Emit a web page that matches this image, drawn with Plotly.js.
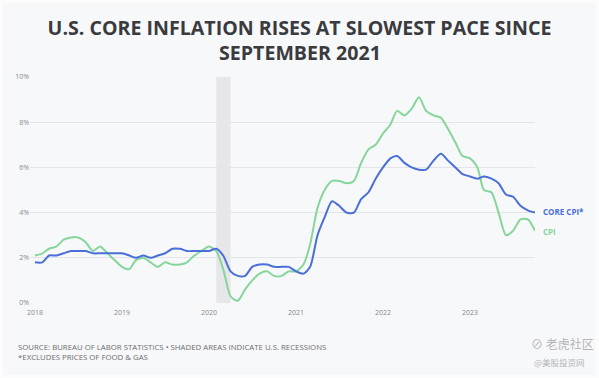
<!DOCTYPE html>
<html>
<head>
<meta charset="utf-8">
<script src="https://cdn.plot.ly/plotly-3.0.1.min.js"></script>
<style>
html,body{margin:0;padding:0;background:#ffffff;}
#wrap{position:relative;width:599px;height:378px;}
#chart{width:599px;height:378px;}
#frame{position:absolute;left:0;top:0;width:599px;height:378px;box-sizing:border-box;border:3px solid #fcfcfd;pointer-events:none;}
</style>
</head>
<body>
<div id="wrap"><div id="chart"></div><div id="frame"></div></div>
<script>
// Year-over-year % change, monthly, Jan 2018 - Oct 2023
const startYear = 2018;
const cpi = [
  2.1, 2.2, 2.4, 2.5, 2.8, 2.9, 2.9, 2.7, 2.3, 2.5, 2.2, 1.9,
  1.6, 1.5, 1.9, 2.0, 1.8, 1.6, 1.8, 1.7, 1.7, 1.8, 2.1, 2.3,
  2.5, 2.3, 1.5, 0.3, 0.1, 0.6, 1.0, 1.3, 1.4, 1.2, 1.2, 1.4,
  1.4, 1.7, 2.6, 4.2, 5.0, 5.4, 5.4, 5.3, 5.4, 6.2, 6.8, 7.0,
  7.5, 7.9, 8.5, 8.3, 8.6, 9.1, 8.5, 8.3, 8.2, 7.7, 7.1, 6.5,
  6.4, 6.0, 5.0, 4.9, 4.0, 3.0, 3.2, 3.7, 3.7, 3.2
];
const coreCpi = [
  1.8, 1.8, 2.1, 2.1, 2.2, 2.3, 2.3, 2.3, 2.2, 2.2, 2.2, 2.2,
  2.2, 2.1, 2.0, 2.1, 2.0, 2.1, 2.2, 2.4, 2.4, 2.3, 2.3, 2.3,
  2.3, 2.4, 2.1, 1.4, 1.2, 1.2, 1.6, 1.7, 1.7, 1.6, 1.6, 1.6,
  1.4, 1.3, 1.6, 3.0, 3.8, 4.5, 4.3, 4.0, 4.0, 4.6, 4.9, 5.5,
  6.0, 6.4, 6.5, 6.2, 6.0, 5.9, 5.9, 6.3, 6.6, 6.3, 6.0, 5.7,
  5.6, 5.5, 5.6, 5.5, 5.3, 4.8, 4.7, 4.3, 4.1, 4.0
];
const yTickVals = [0, 2, 4, 6, 8, 10];
const yTickText = ['0%', '2%', '4%', '6%', '8%', '10%'];
const xTickVals = ['2018-01-01','2019-01-01','2020-01-01','2021-01-01','2022-01-01','2023-01-01'];
const xTickText = ['2018','2019','2020','2021','2022','2023'];
const recessionStart = '2020-02-01';
const recessionEnd = '2020-04-01';
const seriesNames = ['CORE CPI*', 'CPI'];
const titleLines = ['U.S. CORE INFLATION RISES AT SLOWEST PACE SINCE', 'SEPTEMBER 2021'];

const months = cpi.map((_, i) => {
  const y = startYear + Math.floor(i / 12);
  const m = (i % 12) + 1;
  return y + '-' + String(m).padStart(2, '0') + '-01';
});

const blue = '#4a6fd8';
const green = '#86d69b';
const titleFont = {family: 'Open Sans', size: 19.6, color: '#3a3b3e', weight: 700};

const traces = [
  {x: months, y: cpi, type: 'scatter', mode: 'lines', name: seriesNames[1],
   line: {color: green, width: 2, shape: 'spline', smoothing: 0.7}, hoverinfo: 'skip'},
  {x: months, y: coreCpi, type: 'scatter', mode: 'lines', name: seriesNames[0],
   line: {color: blue, width: 2, shape: 'spline', smoothing: 0.7}, hoverinfo: 'skip'}
];

const layout = {
  width: 599, height: 378,
  paper_bgcolor: '#f7f8fa', plot_bgcolor: '#f7f8fa',
  margin: {l: 30, r: 64, t: 77, b: 75},
  showlegend: false,
  title: {
    text: titleLines[0],
    font: titleFont,
    x: 0.5, xref: 'container', xanchor: 'center',
    y: 1 - 28.5 / 378, yref: 'container', yanchor: 'middle'
  },
  xaxis: {
    type: 'date', range: ['2017-12-11', '2023-10-01'],
    tickvals: xTickVals, ticktext: xTickText,
    showgrid: false, zeroline: false, showline: false, ticks: 'outside', ticklen: 3, tickcolor: 'rgba(0,0,0,0)',
    tickfont: {family: 'Open Sans', size: 7, color: '#8a8a8e'},
    fixedrange: true
  },
  yaxis: {
    range: [0, 10], tickvals: yTickVals, ticktext: yTickText,
    showgrid: true, gridcolor: '#e4e5e8', gridwidth: 1,
    zeroline: false, showline: false, ticks: '',
    tickfont: {family: 'Open Sans', size: 7, color: '#8a8a8e'},
    fixedrange: true
  },
  shapes: [{
    type: 'rect', xref: 'x', yref: 'paper', x0: recessionStart, x1: recessionEnd,
    y0: 0, y1: 1, fillcolor: '#e7e7ea', line: {width: 0}, layer: 'below'
  }],
  annotations: [
    {xref: 'paper', yref: 'paper', x: (299.5 - 30) / 505, y: (303 - 52.5) / 226, xanchor: 'center', yanchor: 'middle',
     text: titleLines[1], showarrow: false, font: titleFont},
    {xref: 'paper', yref: 'y', x: 1.012, y: coreCpi[coreCpi.length - 1] + 0.05, xanchor: 'left', yanchor: 'middle',
     text: '<b>CORE CPI*</b>', showarrow: false, font: {family: 'Open Sans', size: 8, color: blue}},
    {xref: 'paper', yref: 'y', x: 1.012, y: cpi[cpi.length - 1] - 0.05, xanchor: 'left', yanchor: 'middle',
     text: '<b>CPI</b>', showarrow: false, font: {family: 'Open Sans', size: 8, color: green}},
    {xref: 'paper', yref: 'paper', x: -0.027, y: -0.165, xanchor: 'left', yanchor: 'top', align: 'left',
     text: 'SOURCE: BUREAU OF LABOR STATISTICS • SHADED AREAS INDICATE U.S. RECESSIONS<br>*EXCLUDES PRICES OF FOOD &amp; GAS',
     showarrow: false, font: {family: 'Open Sans', size: 7.8, color: '#6c6d70'}},
    {xref: 'paper', yref: 'paper', x: 1.121, y: -0.177, xanchor: 'right', yanchor: 'middle',
     text: '⊘ 老虎社区', showarrow: false, font: {family: 'Noto Sans CJK SC', size: 12, color: '#b4b5b8'}},
    {xref: 'paper', yref: 'paper', x: 1.102, y: -0.261, xanchor: 'right', yanchor: 'middle',
     text: '@美股投资网', showarrow: false, font: {family: 'Noto Sans CJK SC', size: 8.5, color: '#b4b5b8'}}
  ]
};

Plotly.newPlot('chart', traces, layout, {displayModeBar: false, staticPlot: true});
</script>
</body>
</html>
